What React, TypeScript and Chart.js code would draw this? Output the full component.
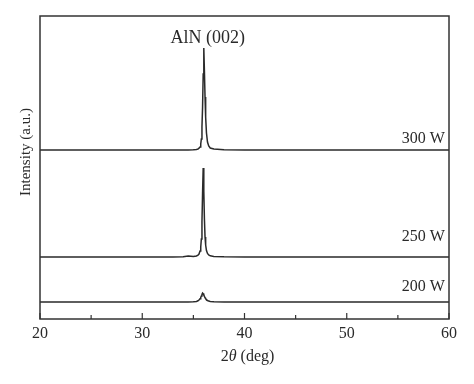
import React, { useEffect, useRef } from "react";
import { Chart, registerables } from "chart.js";

Chart.register(...registerables);

const twoTheta = [20, 25, 30, 33, 34, 34.5, 35, 35.3, 35.45, 35.55, 35.65, 35.72, 35.78, 35.84, 35.9, 35.96, 36.02, 36.08, 36.14, 36.2, 36.28, 36.38, 36.5, 36.65, 37, 38, 40, 45, 50, 55, 60];

const w300 = [169, 169, 169, 169, 169, 169, 169.3, 169.6, 170, 170.8, 172, 175, 180, 192, 212, 245, 271, 248, 222, 202, 186, 177, 173, 171, 170, 169.3, 169, 169, 169, 169, 169];
const w250 = [62, 62, 62, 62, 62.2, 63, 62.6, 63, 63.8, 65, 68, 72, 80, 97, 126, 151, 128, 100, 82, 74, 68.5, 65.5, 64, 63.2, 62.6, 62.2, 62, 62, 62, 62, 62];
const w200 = [17, 17, 17, 17, 17, 17.1, 17.2, 17.6, 18.2, 19, 20.3, 21.6, 23, 24.6, 26, 25.4, 24, 22.6, 21.3, 20.3, 19.3, 18.5, 17.9, 17.5, 17.2, 17, 17, 17, 17, 17, 17];

const xTicks = [20, 30, 40, 50, 60];
const xMinorTicks = [25, 35, 45, 55];

const seriesLabels = ["300 W", "250 W", "200 W"];
const labelY = [180, 82, 32];
const peakLabel = "AlN (002)";

const SERIF = "'Liberation Serif', 'DejaVu Serif', serif";
const INK = "#2a2a2a";

const decor = {
  id: "decor",
  afterDatasetsDraw(chart: any) {
    const { ctx, chartArea: a, scales } = chart;
    const xs = scales.x;
    const ys = scales.y;
    ctx.save();
    // frame
    ctx.strokeStyle = "#333";
    ctx.lineWidth = 1.5;
    ctx.strokeRect(a.left, a.top, a.right - a.left, a.bottom - a.top);
    // inward ticks
    ctx.lineWidth = 1.2;
    ctx.beginPath();
    xTicks.forEach((v) => {
      const px = xs.getPixelForValue(v);
      ctx.moveTo(px, a.bottom);
      ctx.lineTo(px, a.bottom - 6);
    });
    xMinorTicks.forEach((v) => {
      const px = xs.getPixelForValue(v);
      ctx.moveTo(px, a.bottom);
      ctx.lineTo(px, a.bottom - 4);
    });
    ctx.stroke();
    // labels
    ctx.fillStyle = INK;
    ctx.font = `16px ${SERIF}`;
    ctx.textAlign = "right";
    ctx.textBaseline = "middle";
    seriesLabels.forEach((t, i) => {
      ctx.fillText(t, xs.getPixelForValue(59.6), ys.getPixelForValue(labelY[i]));
    });
    ctx.font = `18px ${SERIF}`;
    ctx.textAlign = "center";
    ctx.fillText(peakLabel, xs.getPixelForValue(36.4), ys.getPixelForValue(281));
    // x title: 2θ (deg)
    const p1 = "2";
    const p3 = " (deg)";
    ctx.font = `16px ${SERIF}`;
    const w1 = ctx.measureText(p1).width;
    const w3 = ctx.measureText(p3).width;
    ctx.font = `italic 16px ${SERIF}`;
    const w2 = ctx.measureText("θ").width;
    const total = w1 + w2 + w3;
    const cx = (a.left + a.right) / 2 + 3;
    let sx = cx - total / 2;
    const ty = 357;
    ctx.textAlign = "left";
    ctx.font = `16px ${SERIF}`;
    ctx.fillText(p1, sx, ty);
    sx += w1;
    ctx.font = `italic 16px ${SERIF}`;
    ctx.fillText("θ", sx, ty);
    sx += w2;
    ctx.font = `16px ${SERIF}`;
    ctx.fillText(p3, sx, ty);
    // y title
    ctx.font = `15px ${SERIF}`;
    ctx.translate(26, 152);
    ctx.rotate(-Math.PI / 2);
    ctx.textAlign = "center";
    ctx.fillText("Intensity (a.u.)", 0, 0);
    ctx.restore();
  },
};

export default function App() {
  const ref = useRef<HTMLCanvasElement | null>(null);
  useEffect(() => {
    document.body.style.margin = "0";
    const mk = (vals: number[], label: string) => ({
      label,
      data: twoTheta.map((x, i) => ({ x, y: vals[i] })),
      borderColor: INK,
      borderWidth: 1.5,
      pointRadius: 0,
      tension: 0,
      fill: false,
    });
    const chart = new Chart(ref.current!, {
      type: "line",
      data: {
        datasets: [mk(w300, seriesLabels[0]), mk(w250, seriesLabels[1]), mk(w200, seriesLabels[2])],
      },
      options: {
        animation: false,
        responsive: false,
        maintainAspectRatio: false,
        layout: { padding: { left: 40, top: 16, right: 25, bottom: 0 } },
        plugins: { legend: { display: false }, tooltip: { enabled: false } },
        scales: {
          x: {
            type: "linear",
            min: 20,
            max: 60,
            grid: { display: false, drawTicks: false },
            border: { display: false },
            ticks: {
              stepSize: 10,
              padding: 5,
              color: INK,
              font: { family: SERIF, size: 16 },
            },
            afterFit: (s: any) => {
              s.height = 65;
            },
          },
          y: {
            display: false,
            min: 0,
            max: 303,
          },
        },
      },
      plugins: [decor],
    });
    return () => chart.destroy();
  }, []);
  return <canvas ref={ref} width={474} height={384} style={{ display: "block" }} />;
}
